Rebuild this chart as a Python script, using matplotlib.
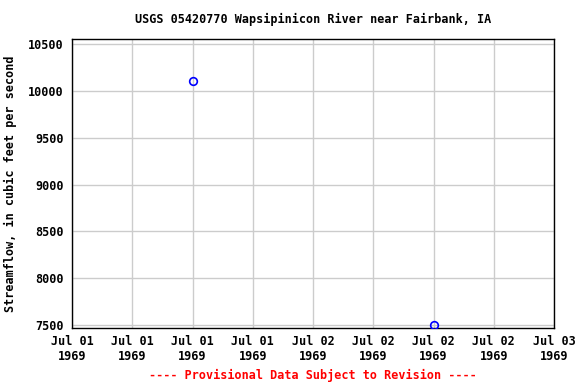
import matplotlib

matplotlib.use("Agg")

import matplotlib.pyplot as plt
import matplotlib.dates as mdates
import numpy as np

# data
dates = np.array(["1969-07-01T12:00", "1969-07-02T12:00"], dtype="datetime64[m]")
flow_cfs = [10110, 7500]

x_start = np.datetime64("1969-07-01T00:00")
x_end = np.datetime64("1969-07-03T00:00")
y_ticks = [7500, 8000, 8500, 9000, 9500, 10000, 10500]

plt.rcParams["font.family"] = ["DejaVu Sans Mono"]
plt.rcParams["font.weight"] = "bold"

fig = plt.figure(figsize=(5.76, 3.84), dpi=100)
ax = fig.add_axes([72 / 576, 1 - 328 / 384, (554 - 72) / 576, (328 - 39) / 384])

xd = dates.astype("datetime64[ms]").astype(object)
ax.plot(xd, flow_cfs, linestyle="none", marker="o", markersize=5.5,
        markerfacecolor="none", markeredgecolor="#0000ff", markeredgewidth=1.2,
        zorder=3)

ax.set_xlim(x_start.astype("datetime64[ms]").astype(object),
            x_end.astype("datetime64[ms]").astype(object))
ax.set_ylim(7468, 10555)
ax.set_yticks(y_ticks)
ax.xaxis.set_major_locator(mdates.HourLocator(byhour=[0, 6, 12, 18]))
ax.xaxis.set_major_formatter(mdates.DateFormatter("%b %d\n%Y"))

ax.grid(True, color="#cccccc", linewidth=1)
ax.set_axisbelow(True)
for s in ax.spines.values():
    s.set_linewidth(1)
    s.set_color("black")
ax.tick_params(axis="both", labelsize=8.5, length=0)
ax.tick_params(axis="y", pad=6)
ax.tick_params(axis="x", pad=5)
for lab in ax.get_xticklabels() + ax.get_yticklabels():
    lab.set_fontweight("bold")

ax.set_ylabel("Streamflow, in cubic feet per second", fontsize=8.5,
              fontweight="bold")
ax.yaxis.set_label_coords(-(72 - 17) / (554 - 72), 0.5)
mid = (72 + 554) / 2 / 576
fig.text(mid, 1 - 19 / 384, "USGS 05420770 Wapsipinicon River near Fairbank, IA",
         fontsize=8.5, fontweight="bold", ha="center", va="center")
fig.text(mid, 1 - 375 / 384, "---- Provisional Data Subject to Revision ----",
         color="red", fontsize=8.5, fontweight="bold", ha="center", va="center")

fig.savefig("out.png", dpi=100)
